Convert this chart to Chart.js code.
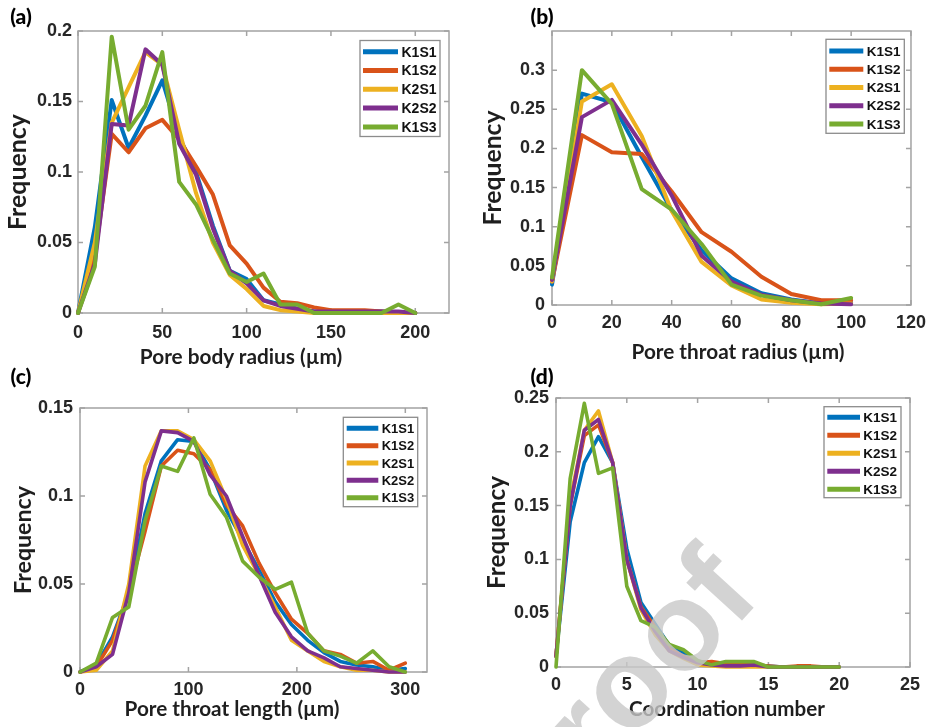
<!DOCTYPE html>
<html><head><meta charset="utf-8">
<script src="https://cdn.jsdelivr.net/npm/chart.js@4.4.0/dist/chart.umd.min.js"></script>
<style>
html,body{margin:0;padding:0;background:#fff;width:933px;height:727px;overflow:hidden;position:relative;}
.pane{position:absolute;}
.pane canvas{display:block;}
.plabel{position:absolute;font-family:Lato,sans-serif;font-weight:900;font-size:21px;color:#000;transform:translate(-50%,-50%);white-space:nowrap;}
.xt{position:absolute;font-family:Lato,sans-serif;font-weight:bold;color:#1e1e1e;white-space:nowrap;transform:translate(-50%,-50%);}
#wm{position:absolute;left:763px;top:599px;width:0;height:0;transform:rotate(-47.6deg);transform-origin:0 0;pointer-events:none;}
#wm span{position:absolute;right:0;bottom:-19px;font-family:"Liberation Sans",Arial,sans-serif;font-weight:bold;font-size:126px;line-height:1;color:rgba(200,200,200,0.8);white-space:nowrap;}
</style></head><body>
<script>
// ---------- DATA ----------
const seriesNames = ['K1S1','K1S2','K2S1','K2S2','K1S3'];

// (a) pore body radius
const aX = [0,10,20,30,40,50,60,70,80,90,100,110,120,130,140,150,160,170,180,190,200];
const aK1S1 = [0,0.061,0.151,0.117,0.140,0.165,0.125,0.100,0.062,0.030,0.024,0.009,0.006,0.003,0.001,0.001,0.001,0.001,0.001,0,0];
const aK1S2 = [0,0.040,0.127,0.114,0.131,0.137,0.123,0.104,0.084,0.048,0.035,0.018,0.008,0.007,0.004,0.002,0.002,0.002,0.001,0,0];
const aK2S1 = [0,0.050,0.135,0.160,0.185,0.176,0.130,0.085,0.050,0.027,0.017,0.005,0.002,0.001,0,0,0,0,0,0,0];
const aK2S2 = [0,0.035,0.134,0.133,0.187,0.176,0.120,0.098,0.060,0.030,0.021,0.009,0.005,0.003,0.001,0.001,0.001,0.001,0.001,0.001,0];
const aK1S3 = [0,0.033,0.196,0.130,0.147,0.185,0.093,0.077,0.052,0.028,0.022,0.028,0.006,0.006,0,0,0,0,0,0.006,0];
const aXTicks = [0,50,100,150,200];
const aXLabels = ['0','50','100','150','200'];
const aYTicks = [0,0.05,0.1,0.15,0.2];
const aYLabels = ['0','0.05','0.1','0.15','0.2'];

// (b) pore throat radius
const bX = [0,10,20,30,40,50,60,70,80,90,100];
const bK1S1 = [0.026,0.270,0.259,0.189,0.121,0.070,0.034,0.015,0.007,0.002,0.003];
const bK1S2 = [0.030,0.217,0.195,0.193,0.145,0.093,0.068,0.036,0.014,0.006,0.006];
const bK2S1 = [0.030,0.260,0.282,0.216,0.120,0.055,0.025,0.007,0.003,0.001,0.002];
const bK2S2 = [0.032,0.240,0.262,0.205,0.140,0.063,0.030,0.013,0.006,0.002,0.001];
const bK1S3 = [0.035,0.300,0.257,0.148,0.122,0.078,0.026,0.012,0.006,0.001,0.009];
const bXTicks = [0,20,40,60,80,100,120];
const bXLabels = ['0','20','40','60','80','100','120'];
const bYTicks = [0,0.05,0.1,0.15,0.2,0.25,0.3];
const bYLabels = ['0','0.05','0.1','0.15','0.2','0.25','0.3'];

// (c) pore throat length
const cX = [0,15,30,45,60,75,90,105,120,135,150,165,180,195,210,225,240,255,270,285,300];
const cK1S1 = [0,0.004,0.020,0.045,0.090,0.120,0.132,0.131,0.115,0.092,0.075,0.058,0.040,0.027,0.018,0.011,0.006,0.004,0.003,0.001,0.002];
const cK1S2 = [0,0.003,0.018,0.045,0.080,0.117,0.126,0.124,0.115,0.095,0.083,0.062,0.045,0.030,0.022,0.012,0.010,0.005,0.006,0.001,0.005];
const cK2S1 = [0,0.001,0.012,0.050,0.117,0.137,0.137,0.132,0.120,0.098,0.072,0.055,0.037,0.018,0.012,0.006,0.003,0.001,0.001,0,0];
const cK2S2 = [0,0.003,0.010,0.045,0.108,0.137,0.136,0.131,0.112,0.100,0.077,0.055,0.034,0.020,0.012,0.008,0.003,0.002,0.001,0,0];
const cK1S3 = [0,0.005,0.031,0.037,0.086,0.117,0.114,0.133,0.101,0.088,0.063,0.054,0.047,0.051,0.022,0.012,0.009,0.005,0.012,0.003,0];
const cXTicks = [0,100,200,300];
const cXLabels = ['0','100','200','300'];
const cYTicks = [0,0.05,0.1,0.15];
const cYLabels = ['0','0.05','0.1','0.15'];

// (d) coordination number
const dX = [0,1,2,3,4,5,6,7,8,9,10,11,12,13,14,15,16,17,18,19,20];
const dK1S1 = [0.010,0.135,0.190,0.214,0.190,0.110,0.060,0.040,0.020,0.013,0.005,0.004,0.002,0.001,0.001,0.001,0,0,0,0,0];
const dK1S2 = [0.010,0.150,0.215,0.225,0.190,0.100,0.056,0.037,0.017,0.010,0.004,0.005,0.003,0.002,0.002,0.001,0,0.001,0.001,0,0];
const dK2S1 = [0.010,0.155,0.220,0.238,0.190,0.100,0.053,0.030,0.015,0.008,0.002,0.001,0,0,0,0,0,0,0,0,0];
const dK2S2 = [0.010,0.150,0.220,0.230,0.190,0.100,0.055,0.033,0.015,0.009,0.004,0.002,0.001,0.001,0.002,0,0,0,0,0,0];
const dK1S3 = [0,0.175,0.245,0.180,0.185,0.075,0.043,0.037,0.021,0.016,0.006,0.002,0.005,0.005,0.005,0,0,0,0,0,0];
const dXTicks = [0,5,10,15,20,25];
const dXLabels = ['0','5','10','15','20','25'];
const dYTicks = [0,0.05,0.1,0.15,0.2,0.25];
const dYLabels = ['0','0.05','0.1','0.15','0.2','0.25'];

const panelLabels = ['(a)','(b)','(c)','(d)'];
const xTitles = ['Pore body radius (\u00b5m)','Pore throat radius (\u00b5m)','Pore throat length (\u00b5m)','Coordination number'];
const yTitle = 'Frequency';

// ---------- STYLE ----------
const COLORS = ['#0072BD','#D95319','#EDB120','#7E2F8E','#77AC30'];
const FRAME = '#a3a3a3';
const TICKCOL = '#262626';

const mctx = document.createElement('canvas').getContext('2d');
function fitSize(text, target, family){
  mctx.font = 'bold 100px ' + family;
  return 100 * target / mctx.measureText(text).width;
}

const framePlugin = {
  id:'frame',
  beforeDatasetsDraw(chart, args, o){
    const {ctx, chartArea:a} = chart;
    const xs = chart.scales.x, ys = chart.scales.y;
    ctx.save();
    ctx.strokeStyle = FRAME; ctx.lineWidth = 1.5;
    ctx.strokeRect(a.left, a.top, a.right-a.left, a.bottom-a.top);
    const L = 5;
    ctx.beginPath();
    xs.ticks.forEach(t=>{ const p = xs.getPixelForValue(t.value);
      ctx.moveTo(p,a.bottom); ctx.lineTo(p,a.bottom-L);
      ctx.moveTo(p,a.top); ctx.lineTo(p,a.top+L); });
    ys.ticks.forEach(t=>{ const p = ys.getPixelForValue(t.value);
      ctx.moveTo(a.left,p); ctx.lineTo(a.left+L,p);
      ctx.moveTo(a.right,p); ctx.lineTo(a.right-L,p); });
    ctx.stroke();
    ctx.restore();
  },
  afterDraw(chart, args, o){
    const lg = o.legend; if(!lg) return;
    const ctx = chart.ctx;
    ctx.save();
    ctx.fillStyle = '#fff'; ctx.fillRect(lg.x, lg.y, lg.w, lg.h);
    ctx.strokeStyle = '#8c8c8c'; ctx.lineWidth = 1.3;
    ctx.strokeRect(lg.x, lg.y, lg.w, lg.h);
    ctx.font = 'bold ' + lg.fs + 'px "Liberation Sans", Arial, sans-serif';
    ctx.textBaseline = 'middle'; ctx.textAlign = 'left';
    chart.data.datasets.forEach((ds,i)=>{
      const y = lg.row0 + i*lg.rowH;
      ctx.strokeStyle = ds.borderColor; ctx.lineWidth = 5;
      ctx.beginPath(); ctx.moveTo(lg.l1, y); ctx.lineTo(lg.l2, y); ctx.stroke();
      ctx.fillStyle = '#111';
      ctx.fillText(ds.label, lg.tx, y+1);
    });
    ctx.restore();
  }
};

function makePanel(p){
  const div = document.createElement('div');
  div.className = 'pane';
  div.style.left = p.box[0]+'px'; div.style.top = p.box[1]+'px';
  const cv = document.createElement('canvas');
  cv.width = p.box[2]; cv.height = p.box[3];
  cv.style.width = p.box[2]+'px'; cv.style.height = p.box[3]+'px';
  div.appendChild(cv); document.body.appendChild(div);
  const area = p.area; // absolute L,T,R,B
  const relL = area[0]-p.box[0], relT = area[1]-p.box[1], relR = area[2]-p.box[0], relB = area[3]-p.box[1];
  const yfs = fitSize(yTitle, p.yTitleLen, 'Lato');
  const yLH = yfs*1.2;
  const tickFont = {family:'"Liberation Sans", Arial, sans-serif', weight:'bold', size:18};
  const datasets = p.series.map((s,i)=>({
    label: seriesNames[i],
    data: p.x.map((xv,j)=>({x:xv, y:s[j]})),
    borderColor: COLORS[i], backgroundColor: COLORS[i],
    borderWidth: p.lw, pointRadius:0, tension:0, fill:false,
    borderJoinStyle:'round', borderCapStyle:'round',
    order: p.series.length - i, clip: 6
  }));
  new Chart(cv, {
    type:'line',
    data:{datasets},
    plugins:[framePlugin],
    options:{
      responsive:false, animation:false, devicePixelRatio:1,
      layout:{padding:{left:0, top:relT, right:p.box[2]-relR, bottom:0}},
      plugins:{legend:{display:false}, tooltip:{enabled:false}, frame:{legend:p.legend}},
      scales:{
        x:{type:'linear', min:0, max:p.xMax,
          afterFit(s){ s.height = p.box[3]-relB; },
          afterBuildTicks(s){ s.ticks = p.xTicks.map(v=>({value:v})); },
          grid:{display:false, drawTicks:false}, border:{display:false},
          ticks:{font:tickFont, color:TICKCOL, padding:p.xTickPad, maxRotation:0, autoSkip:false,
            callback:(v)=>p.xLabels[p.xTicks.indexOf(v)]}
        },
        y:{type:'linear', min:0, max:p.yMax,
          afterFit(s){ s.width = relL; },
          afterBuildTicks(s){ s.ticks = p.yTicks.map(v=>({value:v})); },
          grid:{display:false, drawTicks:false}, border:{display:false},
          ticks:{font:tickFont, color:TICKCOL, padding:p.yTickPad, autoSkip:false,
            callback:(v)=>p.yLabels[p.yTicks.indexOf(v)]},
          title:{display:true, text:yTitle, color:'#1e1e1e',
            font:{family:'Lato', weight:'bold', size:yfs},
            padding:{top:p.yTitleX - yLH/2, bottom:0}}
        }
      }
    }
  });
  const xt = document.createElement('div');
  xt.className = 'xt'; xt.textContent = p.xTitle;
  xt.style.fontSize = fitSize(p.xTitle, p.xTitleW, 'Lato')+'px';
  xt.style.left = p.xTitlePos[0]+'px'; xt.style.top = p.xTitlePos[1]+'px';
  document.body.appendChild(xt);
  const pl = document.createElement('div');
  pl.className = 'plabel'; pl.textContent = p.label;
  pl.style.left = p.labelPos[0]+'px'; pl.style.top = p.labelPos[1]+'px';
  document.body.appendChild(pl);
}

makePanel({
  box:[0,0,466,363], area:[78,31,449,313], x:aX, series:[aK1S1,aK1S2,aK2S1,aK2S2,aK1S3],
  xMax:220, yMax:0.2, xTicks:aXTicks, xLabels:aXLabels, yTicks:aYTicks, yLabels:aYLabels,
  xTickPad:9, yTickPad:6, yTitleLen:116, yTitleX:18, lw:4,
  xTitle:xTitles[0], xTitleW:203, xTitlePos:[241,355], label:panelLabels[0], labelPos:[21,15],
  legend:{x:360,y:40.5,w:80,h:96,row0:51.7,rowH:18.8,l1:363,l2:398,tx:401.5,fs:14}
});
makePanel({
  box:[466,0,467,363], area:[552,31,913,305], x:bX, series:[bK1S1,bK1S2,bK2S1,bK2S2,bK1S3],
  xMax:120, yMax:0.35, xTicks:bXTicks, xLabels:bXLabels, yTicks:bYTicks, yLabels:bYLabels,
  xTickPad:7, yTickPad:7, yTitleLen:115, yTitleX:27, lw:4,
  xTitle:xTitles[1], xTitleW:213, xTitlePos:[738,351], label:panelLabels[1], labelPos:[542,15],
  legend:{x:360,y:39.3,w:78.3,h:94,row0:51,rowH:18.25,l1:363.3,l2:397.3,tx:400.7,fs:13.5}
});
makePanel({
  box:[0,363,466,364], area:[80,408,427,672], x:cX, series:[cK1S1,cK1S2,cK2S1,cK2S2,cK1S3],
  xMax:320, yMax:0.15, xTicks:cXTicks, xLabels:cXLabels, yTicks:cYTicks, yLabels:cYLabels,
  xTickPad:7, yTickPad:7, yTitleLen:108, yTitleX:24, lw:3.6,
  xTitle:xTitles[2], xTitleW:215, xTitlePos:[232,708], label:panelLabels[2], labelPos:[21,375],
  legend:{x:343.3,y:54.3,w:74.4,h:89.4,row0:65.3,rowH:17.35,l1:346.7,l2:378.3,tx:381.7,fs:13}
});
makePanel({
  box:[466,363,467,364], area:[556,398,910,667], x:dX, series:[dK1S1,dK1S2,dK2S1,dK2S2,dK1S3],
  xMax:25, yMax:0.25, xTicks:dXTicks, xLabels:dXLabels, yTicks:dYTicks, yLabels:dYLabels,
  xTickPad:7, yTickPad:7, yTitleLen:113, yTitleX:31, lw:3.6,
  xTitle:xTitles[3], xTitleW:196, xTitlePos:[727,708], label:panelLabels[3], labelPos:[542,375],
  legend:{x:358,y:43.7,w:77,h:91,row0:54.3,rowH:18,l1:361.3,l2:394,tx:397.3,fs:13.5}
});
</script>
<div id="wm"><span>Journal Pre-proof</span></div>
</body></html>
